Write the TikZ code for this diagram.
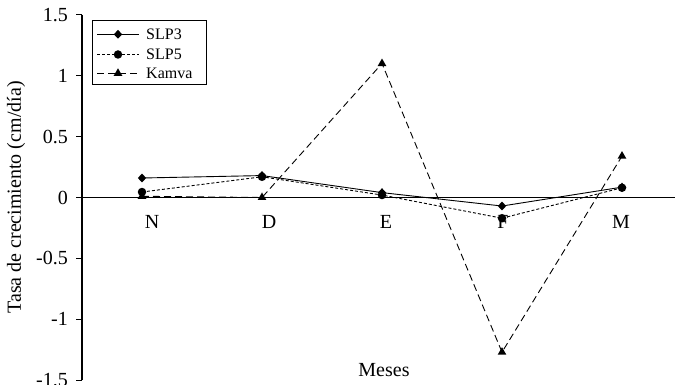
\documentclass[tikz,border=0pt]{standalone}
\usepackage{fontspec}
\setmainfont{Liberation Serif}
\usetikzlibrary{shapes.geometric,calc}
\begin{document}
\begin{tikzpicture}[x=1pt,y=1pt,
  axisline/.style={line width=1.5pt},
  ticklab/.style={anchor=east,font=\fontsize{20}{22}\selectfont,inner sep=0pt},
  catlab/.style={font=\fontsize{20}{22}\selectfont,inner sep=0pt},
  sA/.style={line width=0.9pt},
  sB/.style={line width=0.9pt,dash pattern=on 3pt off 2pt},
  sC/.style={line width=0.9pt,dash pattern=on 7pt off 4pt},
  mkA/.style={diamond,fill=black,inner sep=0pt,minimum width=8.5pt,minimum height=9pt},
  mkB/.style={circle,fill=black,inner sep=0pt,minimum size=8.5pt},
  mkC/.style={regular polygon,regular polygon sides=3,fill=black,inner sep=0pt,minimum size=10pt},
  legtext/.style={anchor=west,font=\fontsize{16}{18}\selectfont,inner sep=0pt}]
\useasboundingbox (0,0) rectangle (675,385);
% axes
\coordinate (ytop) at (82,370.2);
\coordinate (ybot) at (82,4.8);
\coordinate (xleft) at (82,187.5);
\coordinate (xright) at (675,187.5);
\draw[axisline] (ytop) -- (ybot);
\draw[axisline] (xleft) -- (xright);
% y ticks and labels
\foreach \v/\t [count=\k] in {1.5/1.5,1/1,0.5/0.5,0/0,-0.5/-0.5,-1/-1,-1.5/-1.5}{
  \coordinate (tk\k) at (82,187.5+121.8*\v);
  \draw[line width=1pt] (tk\k) -- ++(-6,0);
  \node[ticklab] (tl\k) at ($(tk\k)+(-14,0)$) {\t};
}
% category labels
\foreach \c/\xx in {N/152,D/269,E/386,F/503,M/621}{
  \node[catlab] (cat\c) at (\xx,163) {\c};
}
\node[catlab] (xlabel) at (384,15) {Meses};
\node[catlab,rotate=90] (ylabel) at (16,187.5) {Tasa de crecimiento (cm/día)};
% data
\begin{scope}[shift={(142pt,187.5pt)},x=120pt,y=121.8pt]
  \foreach \i/\a/\b/\c in {0/0.16/0.045/0.01,1/0.18/0.17/0.0,2/0.04/0.02/1.1,3/-0.07/-0.17/-1.27,4/0.085/0.08/0.34}{
    \coordinate (A\i) at (\i,\a);
    \coordinate (B\i) at (\i,\b);
    \coordinate (C\i) at (\i,\c);
  }
  \draw[sC] (C0) -- (C1) -- (C2) -- (C3) -- (C4);
  \draw[sB] (B0) -- (B1) -- (B2) -- (B3) -- (B4);
  \draw[sA] (A0) -- (A1) -- (A2) -- (A3) -- (A4);
  \foreach \i in {0,...,4}{
    \node[mkC] (mC\i) at (C\i) {};
    \node[mkB] (mB\i) at (B\i) {};
    \node[mkA] (mA\i) at (A\i) {};
  }
\end{scope}
% legend
\draw[line width=1pt,fill=white] (92,364) rectangle (206,300);
\coordinate (lA1) at (97,350.7); \coordinate (lA2) at (139,350.7);
\coordinate (lB1) at (97,330.5); \coordinate (lB2) at (139,330.5);
\coordinate (lC1) at (97,311.7); \coordinate (lC2) at (139,311.7);
\draw[sA] (lA1) -- (lA2);
\draw[sB] (lB1) -- (lB2);
\draw[sC] (lC1) -- (lC2);
\node[mkA] (lmA) at (118,350.7) {};
\node[mkB] (lmB) at (118,330.5) {};
\node[mkC] (lmC) at (118,311.7) {};
\node[legtext] (ltA) at (146,350.7) {SLP3};
\node[legtext] (ltB) at (146,330.5) {SLP5};
\node[legtext] (ltC) at (146,311.7) {Kamva};
\end{tikzpicture}
\end{document}
